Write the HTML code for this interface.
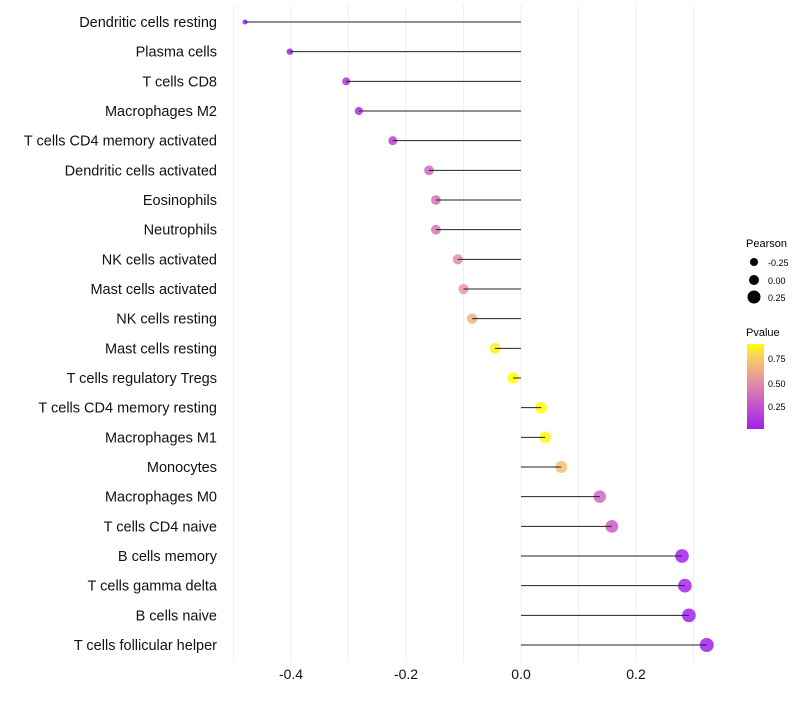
<!DOCTYPE html>
<html><head><meta charset="utf-8"><style>
body{margin:0;background:#fff;}
svg text{font-family:"Liberation Sans",sans-serif;}
</style></head><body>
<svg id="chart" width="800" height="700">
<defs><linearGradient id="pg" x1="0" y1="1" x2="0" y2="0">
<stop offset="0" stop-color="#a020f0"/><stop offset="0.3" stop-color="#c858c8"/><stop offset="0.6" stop-color="#e89a98"/><stop offset="0.85" stop-color="#f8d060"/><stop offset="1" stop-color="#ffff00"/>
</linearGradient></defs>
<g id="grid"></g>
<g id="pts"></g>
<g id="marks"></g>
<g id="ylab"></g>
<g id="xlab"></g>
<g>
<text x="746" y="247" font-size="11">Pearson</text>
<circle cx="754" cy="262" r="4" fill="#000"/><text x="768" y="266" font-size="9">-0.25</text>
<circle cx="754" cy="280" r="5" fill="#000"/><text x="768" y="284" font-size="9">0.00</text>
<circle cx="754" cy="297" r="6.5" fill="#000"/><text x="768" y="301" font-size="9">0.25</text>
</g>
<g>
<text x="746" y="336" font-size="11">Pvalue</text>
<rect x="747" y="344" width="17" height="85" fill="url(#pg)"/>
<text x="768" y="362" font-size="9">0.75</text>
<text x="768" y="387" font-size="9">0.50</text>
<text x="768" y="410" font-size="9">0.25</text>
</g>
</svg>
<script>
const cats=["Dendritic cells resting","Plasma cells","T cells CD8","Macrophages M2","T cells CD4 memory activated","Dendritic cells activated","Eosinophils","Neutrophils","NK cells activated","Mast cells activated","NK cells resting","Mast cells resting","T cells regulatory  Tregs ","T cells CD4 memory resting","Macrophages M1","Monocytes","Macrophages M0","T cells CD4 naive","B cells memory","T cells gamma delta","B cells naive","T cells follicular helper"];
const pearson=[-0.48,-0.402,-0.304,-0.282,-0.223,-0.16,-0.148,-0.148,-0.11,-0.10,-0.085,-0.045,-0.014,0.035,0.042,0.07,0.137,0.158,0.28,0.285,0.292,0.323];
const pvals=[0.02,0.05,0.1,0.12,0.2,0.35,0.4,0.4,0.5,0.55,0.65,0.85,0.97,0.9,0.88,0.7,0.35,0.3,0.05,0.05,0.04,0.03];
const xticks=[-0.4,-0.2,0.0,0.2];
const xTickLabels=["-0.4","-0.2","0.0","0.2"];
const NS="http://www.w3.org/2000/svg";
const xs=v=>521+v*575;
const ys=i=>22+i*(645-22)/(cats.length-1);
const rs=v=>Math.sqrt(Math.max(2.25,16+53*(v+0.3)));
function lerp(a,b,t){return Math.round(a+(b-a)*t);}
const stops=[[0,[160,32,240]],[0.3,[200,88,200]],[0.6,[232,154,152]],[0.85,[248,208,96]],[1,[255,255,0]]];
function col(p){let t=Math.max(0,Math.min(1,(p-0.03)/0.87));for(let k=0;k<stops.length-1;k++){const a=stops[k],b=stops[k+1];if(t<=b[0]){const u=(t-a[0])/(b[0]-a[0]);return `rgb(${lerp(a[1][0],b[1][0],u)},${lerp(a[1][1],b[1][1],u)},${lerp(a[1][2],b[1][2],u)})`;}}return "rgb(255,255,0)";}
function mk(tag,attrs,parent){const e=document.createElementNS(NS,tag);for(const k in attrs)e.setAttribute(k,attrs[k]);parent.appendChild(e);return e;}
const grid=document.getElementById('grid'),pts=document.getElementById('pts'),marks=document.getElementById('marks'),ylab=document.getElementById('ylab'),xlab=document.getElementById('xlab');
for(let g=-0.5;g<=0.31;g+=0.1){const l=mk('line',{x1:xs(g),x2:xs(g),y1:5,y2:662,stroke:'#efefef','stroke-width':1},grid);

}
cats.forEach((c,i)=>{const y=ys(i);
const ci=mk('circle',{cx:xs(pearson[i]),cy:y,r:rs(pearson[i]),fill:col(pvals[i]),'fill-opacity':0.85},pts);


const ln=mk('line',{x1:xs(0),x2:xs(pearson[i]),y1:y,y2:y,stroke:'#222','stroke-width':1},marks);


const t=mk('text',{x:217,y:y+5,'font-size':14.5,'text-anchor':'end',fill:'#111'},ylab);t.textContent=c;

});
xticks.forEach((v,i)=>{const t=mk('text',{x:xs(v),y:679,'font-size':14,'text-anchor':'middle',fill:'#111'},xlab);t.textContent=xTickLabels[i];

});
</script>
</body></html>
